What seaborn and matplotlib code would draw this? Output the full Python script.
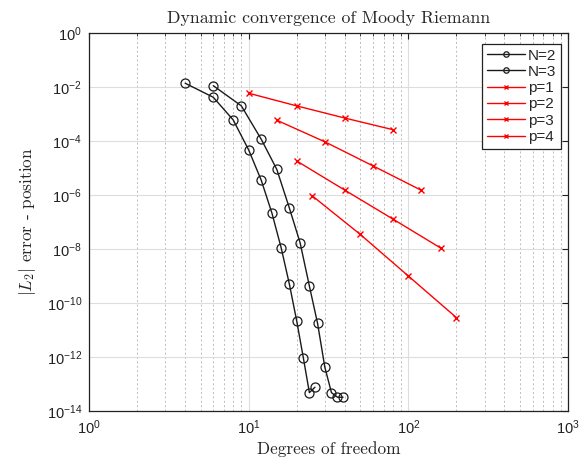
import numpy as np
import pandas as pd
import matplotlib
matplotlib.use("Agg")
import matplotlib.pyplot as plt
from matplotlib.ticker import FixedLocator, LogLocator, NullFormatter, NullLocator
import seaborn as sns

# Spectral element (N) refinement: degrees of freedom vs log10 error
n2_dof = [4, 6, 8, 10, 12, 14, 16, 18, 20, 22, 24, 26]
n2_log_err = [-1.86, -2.38, -3.22, -4.33, -5.46, -6.68, -7.97, -9.31, -10.67, -12.03, -13.32, -13.12]
n3_dof = [6, 9, 12, 15, 18, 21, 24, 27, 30, 33, 36, 39]
n3_log_err = [-1.95, -2.70, -3.94, -5.05, -6.49, -7.77, -9.37, -10.75, -12.38, -13.32, -13.49, -13.49]

# Polynomial order (p) refinement
p1_dof = [10, 20, 40, 80]
p1_log_err = [-2.23, -2.70, -3.15, -3.58]
p2_dof = [15, 30, 60, 120]
p2_log_err = [-3.23, -4.03, -4.92, -5.82]
p3_dof = [20, 40, 80, 160]
p3_log_err = [-4.74, -5.82, -6.89, -7.97]
p4_dof = [25, 50, 100, 200]
p4_log_err = [-6.03, -7.46, -9.00, -10.54]

x_ticks = [1, 10, 100, 1000]
y_ticks = [1e0, 1e-2, 1e-4, 1e-6, 1e-8, 1e-10, 1e-12, 1e-14]

sns.set_theme(style="white")
plt.rcParams["font.family"] = ["Liberation Sans", "DejaVu Sans"]
plt.rcParams["mathtext.fontset"] = "cm"
plt.rcParams["axes.unicode_minus"] = True

fig = plt.figure(figsize=(5.81, 4.59), dpi=100)
ax = fig.add_axes([89 / 581, 1 - 411 / 459, 479 / 581, 378 / 459])

series = [
    ("N=2", n2_dof, n2_log_err, "#1a1a1a", "o"),
    ("N=3", n3_dof, n3_log_err, "#1a1a1a", "o"),
    ("p=1", p1_dof, p1_log_err, "#ff0000", "x"),
    ("p=2", p2_dof, p2_log_err, "#ff0000", "x"),
    ("p=3", p3_dof, p3_log_err, "#ff0000", "x"),
    ("p=4", p4_dof, p4_log_err, "#ff0000", "x"),
]

for label, dof, log_err, color, marker in series:
    df = pd.DataFrame({"dof": dof, "err": 10.0 ** np.array(log_err)})
    if marker == "o":
        style = dict(markersize=6.5, markerfacecolor="none", markeredgecolor=color,
                     markeredgewidth=0.9)
    else:
        style = dict(markersize=5, markeredgecolor=color, markeredgewidth=1.0)
    sns.lineplot(data=df, x="dof", y="err", ax=ax, color=color, marker=marker,
                 linewidth=1.0, label=label, estimator=None, sort=False, **style)

ax.set_xscale("log")
ax.set_yscale("log")
ax.set_xlim(1, 1000)
ax.set_ylim(1e-14, 1)

ax.xaxis.set_major_locator(FixedLocator(x_ticks))
ax.xaxis.set_minor_locator(LogLocator(base=10, subs=np.arange(2, 10)))
ax.xaxis.set_minor_formatter(NullFormatter())
ax.yaxis.set_major_locator(FixedLocator(y_ticks))
ax.yaxis.set_minor_locator(NullLocator())
ax.set_xticklabels([r"$\mathdefault{10^{%d}}$" % int(np.log10(v)) for v in x_ticks])
ax.set_yticklabels([r"$\mathdefault{10^{%d}}$" % int(round(np.log10(v))) for v in y_ticks])

ax.grid(True, which="major", color="#dddddd", linestyle="-", linewidth=0.8)
ax.grid(True, which="minor", axis="x", color="#bbbbbb", linestyle=(0, (2, 2.5)), linewidth=0.7)
ax.set_axisbelow(True)

ax.tick_params(axis="both", which="both", direction="in", top=True, right=True,
               labelsize=10.5, colors="#222222")
ax.tick_params(axis="both", which="major", length=4, width=0.8, pad=5)
ax.tick_params(axis="x", which="minor", length=2.5, width=0.6)
for s in ax.spines.values():
    s.set_color("#222222")
    s.set_linewidth(0.9)

ax.set_title("Dynamic convergence of Moody Riemann", family="cmr10", fontsize=12.8, pad=7.5)
ax.set_xlabel("Degrees of freedom", family="cmr10", fontsize=12.4, labelpad=3)
ax.set_ylabel(r"$|L_2|$ error - position", fontsize=12.4, labelpad=6)
ax.yaxis.label.set_family("cmr10")

leg = ax.legend(loc="upper right", bbox_to_anchor=(0.985, 0.971), borderaxespad=0,
                fontsize=11, frameon=True, fancybox=False,
                edgecolor="#222222", framealpha=1, labelspacing=0.15, handlelength=2.5,
                handletextpad=0.2, borderpad=0.3, markerscale=0.6)
leg.get_frame().set_linewidth(0.9)

fig.savefig("out.png", dpi=100)
